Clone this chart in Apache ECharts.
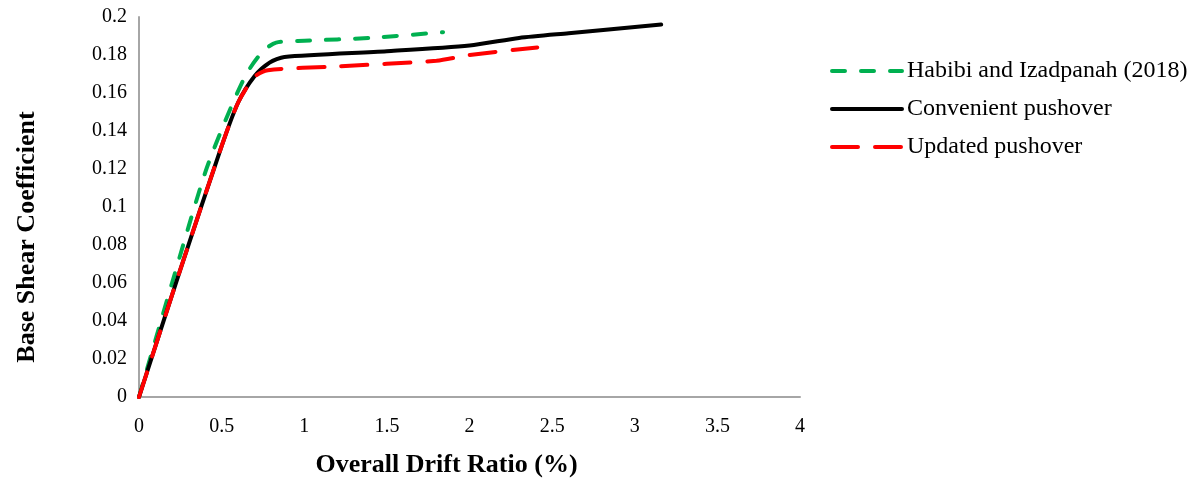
<!DOCTYPE html>
<html>
<head>
<meta charset="utf-8">
<script src="https://cdn.jsdelivr.net/npm/echarts@6/dist/echarts.min.js"></script>
<style>
  html, body { margin: 0; padding: 0; background: #fff; }
  #chart { width: 1192px; height: 481px; }
</style>
</head>
<body>
<div id="chart"></div>
<script>
// values: [drift ratio %, base shear coefficient]
const habibiPts = [[0, 0], [0.2, 0.06], [0.4, 0.118], [0.53, 0.147], [0.65, 0.17], [0.75, 0.182], [0.83, 0.1865], [1.0, 0.1875], [1.4, 0.189], [1.84, 0.192]]
const convPts = [[0, 0], [0.25, 0.067], [0.5, 0.132], [0.6, 0.155], [0.7, 0.169], [0.79, 0.176], [0.88, 0.179], [1.5, 0.182], [2.0, 0.185], [2.3, 0.189], [2.6, 0.1915], [3.16, 0.196]]
const updatedPts = [[0, 0], [0.25, 0.067], [0.5, 0.132], [0.6, 0.155], [0.7, 0.1685], [0.78, 0.172], [1.2, 0.174], [1.8, 0.177], [2.0, 0.18], [2.41, 0.184]]

const seriesNames = ['Habibi and Izadpanah (2018)', 'Convenient pushover', 'Updated pushover']
const xTicks = { min: 0, max: 4, interval: 0.5 }
const yTicks = { min: 0, max: 0.2, interval: 0.02 }

const font = '"Liberation Serif", "Times New Roman", serif'
const chart = echarts.init(document.getElementById('chart'))

function lineSeries(name, data, color, type) {
  return {
    name, type: 'line', data,
    smooth: 0.25,
    symbol: 'none',
    lineStyle: { color, width: 4, type, cap: 'round' },
    itemStyle: { color },
  }
}

chart.setOption({
  animation: false,
  grid: { left: 139, right: 392, top: 17, bottom: 84, outerBoundsMode: 'none', containLabel: false },
  legend: {
    orient: 'vertical',
    left: 825, top: 54,
    itemWidth: 70, itemHeight: 14, itemGap: 14,
    itemStyle: { opacity: 0 },
    lineStyle: { width: 4, cap: 'round' },
    textStyle: { fontFamily: font, fontSize: 24, color: '#000' },
    data: seriesNames,
  },
  xAxis: {
    type: 'value', ...xTicks,
    name: 'Overall Drift Ratio (%)',
    nameLocation: 'middle', nameGap: 55,
    nameTextStyle: { fontFamily: font, fontSize: 26, fontWeight: 'bold', color: '#000', padding: [0, 46, 0, 0] },
    axisLine: { lineStyle: { color: '#a6a6a6', width: 2 } },
    axisTick: { show: false },
    splitLine: { show: false },
    axisLabel: { fontFamily: font, fontSize: 20, color: '#000', margin: 20 },
  },
  yAxis: {
    type: 'value', ...yTicks,
    name: 'Base Shear Coefficient',
    nameLocation: 'middle', nameGap: 99,
    nameTextStyle: { fontFamily: font, fontSize: 26, fontWeight: 'bold', color: '#000', padding: [0, 60, 0, 0] },
    axisLine: { show: true, lineStyle: { color: '#a6a6a6', width: 2 } },
    axisTick: { show: false },
    splitLine: { show: false },
    axisLabel: { fontFamily: font, fontSize: 20, color: '#000', margin: 12, formatter: v => String(+v.toFixed(2)) },
  },
  series: [
    lineSeries(seriesNames[0], habibiPts, '#00b050', [13, 16]),
    lineSeries(seriesNames[1], convPts, '#000000', 'solid'),
    lineSeries(seriesNames[2], updatedPts, '#ff0000', [26, 17]),
  ],
})
</script>
</body>
</html>
